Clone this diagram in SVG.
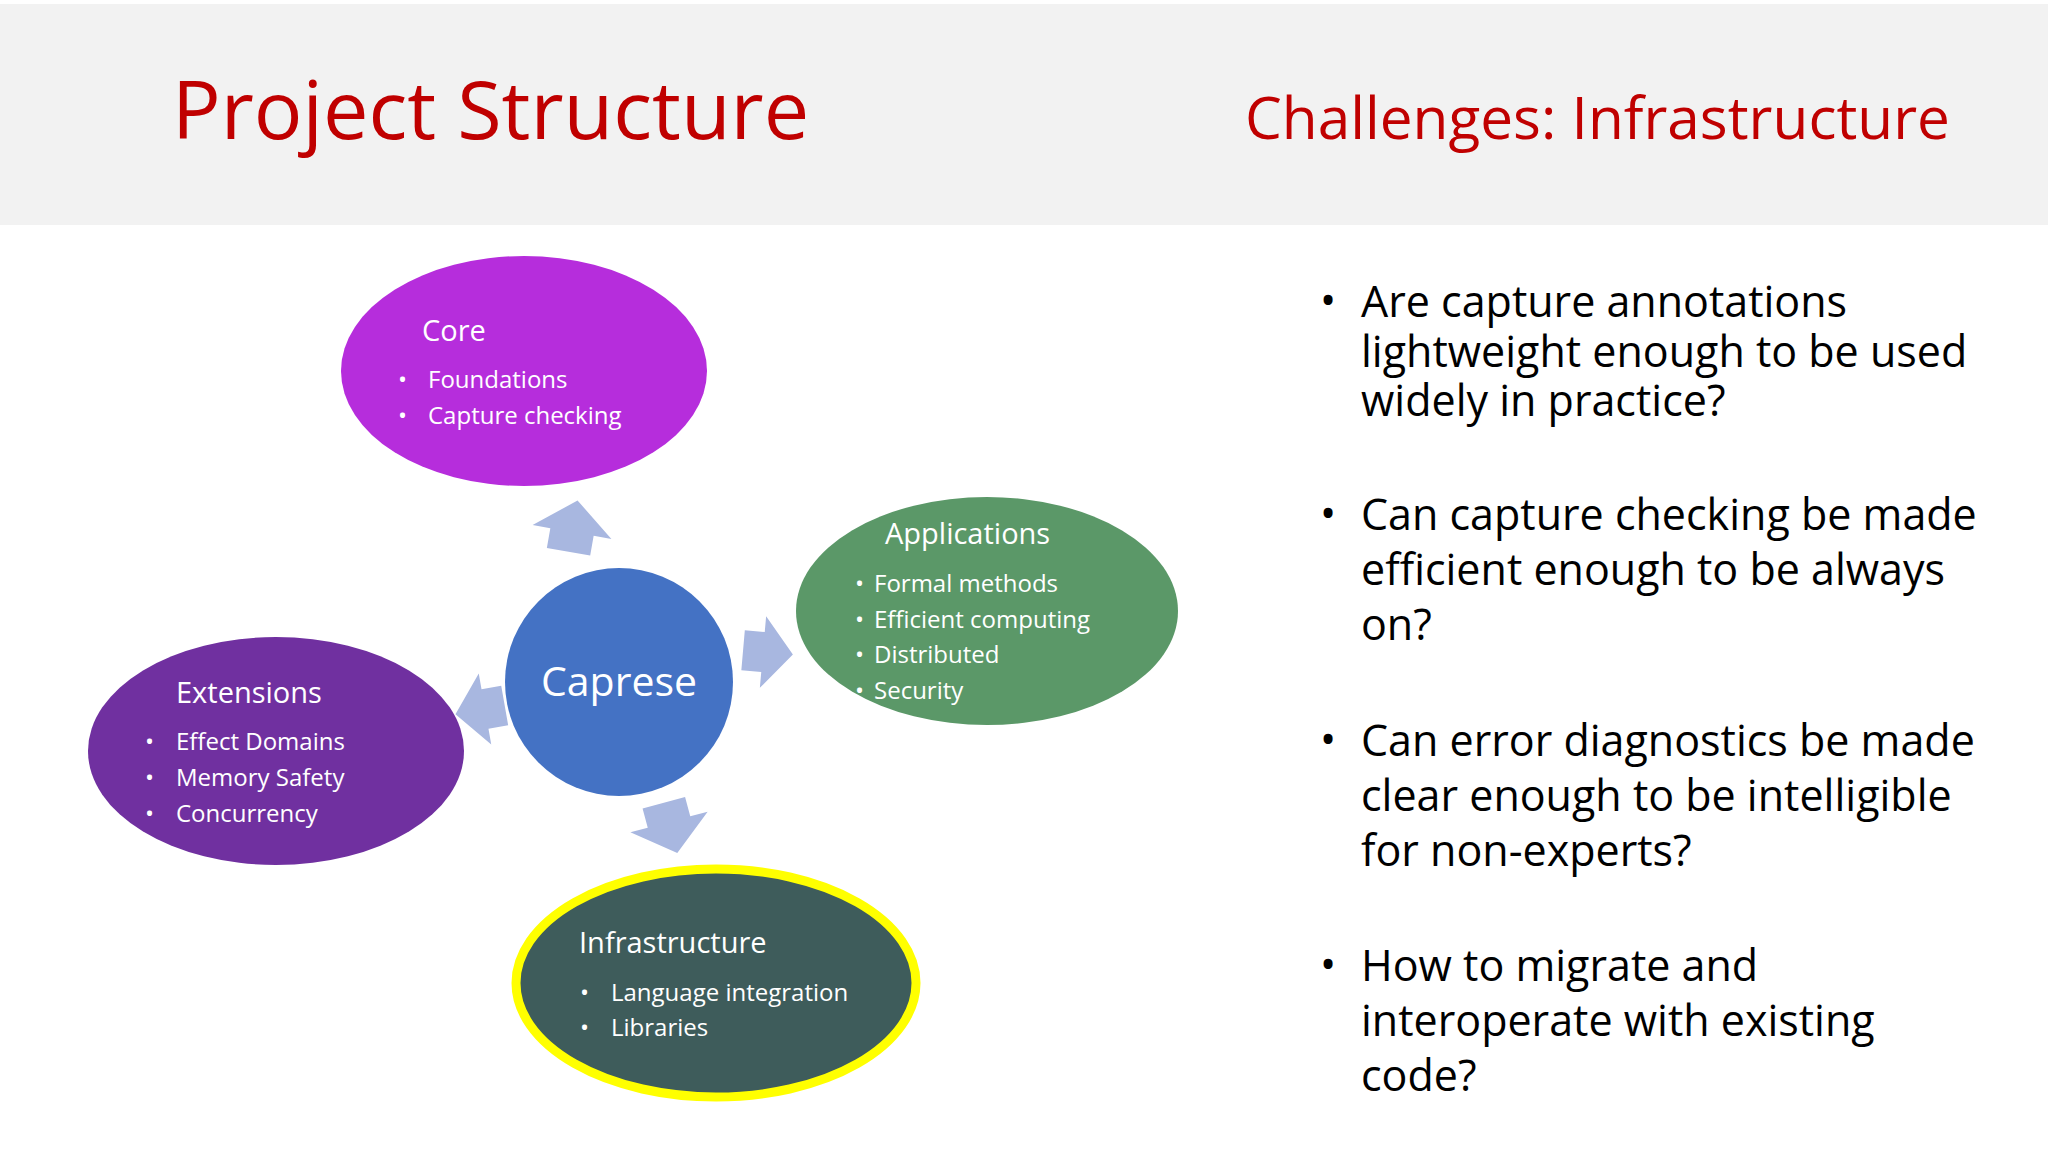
<svg xmlns="http://www.w3.org/2000/svg" width="2048" height="1152" viewBox="0 0 2048 1152">
<style>
.t{font-family:"Open Sans","Noto Sans","Liberation Sans",sans-serif;fill:#fff}
.h{font-size:29px}.b{font-size:24px}
.r{font-family:"Open Sans","Noto Sans","Liberation Sans",sans-serif;font-size:43px;fill:#000}
.ar{fill:#a8b7e0}
</style>
<rect width="2048" height="1152" fill="#fff"/>
<rect y="4" width="2048" height="221" fill="#f2f2f2"/>
<text x="172" y="139" font-family="'Open Sans','Noto Sans',sans-serif" font-size="81" fill="#c00000">Project Structure</text>
<text x="1245" y="139" font-family="'Open Sans','Noto Sans',sans-serif" font-size="58.5" fill="#c00000">Challenges: Infrastructure</text>
<g id="connectors">
<polygon class="ar" points="-22,20 22,20 22,0 40,0 0,-32 -40,0 -22,0" transform="translate(572,532) rotate(10)"/>
<polygon class="ar" points="-20,20 20,20 20,0 36,0 0,-30 -36,0 -20,0" transform="translate(763,652) rotate(95)"/>
<polygon class="ar" points="-20,20 20,20 20,0 36,0 0,-30 -36,0 -20,0" transform="translate(485,709) rotate(-100)"/>
<polygon class="ar" points="-22,20 22,20 22,0 40,0 0,-32 -40,0 -22,0" transform="translate(669,822) rotate(165)"/>
</g>
<g id="core">
<ellipse cx="524" cy="371" rx="183" ry="115" fill="#b62ddc"/>
<text class="t h" x="422" y="341">Core</text>
<text class="t b" x="398" y="388">•</text><text class="t b" x="428" y="388">Foundations</text>
<text class="t b" x="398" y="424">•</text><text class="t b" x="428" y="424">Capture  checking</text>
</g>
<g id="caprese">
<circle cx="619" cy="682" r="114" fill="#4472c4"/>
<text class="t" x="619" y="696" font-size="41" text-anchor="middle">Caprese</text>
</g>
<g id="applications">
<ellipse cx="987" cy="611" rx="191" ry="114" fill="#5b9868"/>
<text class="t h" x="885" y="544">Applications</text>
<text class="t b" x="855" y="592">•</text><text class="t b" x="874" y="592">Formal methods</text>
<text class="t b" x="855" y="628">•</text><text class="t b" x="874" y="628">Efficient computing</text>
<text class="t b" x="855" y="663">•</text><text class="t b" x="874" y="663">Distributed</text>
<text class="t b" x="855" y="699">•</text><text class="t b" x="874" y="699">Security</text>
</g>
<g id="extensions">
<ellipse cx="276" cy="751" rx="188" ry="114" fill="#7030a0"/>
<text class="t h" x="176" y="703">Extensions</text>
<text class="t b" x="145" y="750">•</text><text class="t b" x="176" y="750">Effect Domains</text>
<text class="t b" x="145" y="786">•</text><text class="t b" x="176" y="786">Memory Safety</text>
<text class="t b" x="145" y="822">•</text><text class="t b" x="176" y="822">Concurrency</text>
</g>
<g id="infrastructure">
<ellipse cx="716" cy="983" rx="200" ry="114" fill="#3e5c5b" stroke="#ffff00" stroke-width="9"/>
<text class="t h" x="579" y="953">Infrastructure</text>
<text class="t b" x="580" y="1001">•</text><text class="t b" x="611" y="1001">Language integration</text>
<text class="t b" x="580" y="1036">•</text><text class="t b" x="611" y="1036">Libraries</text>
</g>
<g id="challenges">
<text class="r" x="1320" y="316">•</text>
<text class="r" x="1361" y="317">Are capture annotations</text>
<text class="r" x="1361" y="367">lightweight enough to be used</text>
<text class="r" x="1361" y="416">widely in practice?</text>
<text class="r" x="1320" y="529">•</text>
<text class="r" x="1361" y="530">Can capture checking be made</text>
<text class="r" x="1361" y="585">efficient enough to be always</text>
<text class="r" x="1361" y="640">on?</text>
<text class="r" x="1320" y="755">•</text>
<text class="r" x="1361" y="756">Can error diagnostics be made</text>
<text class="r" x="1361" y="811">clear enough to be intelligible</text>
<text class="r" x="1361" y="866">for non-experts?</text>
<text class="r" x="1320" y="980">•</text>
<text class="r" x="1361" y="981">How to migrate and</text>
<text class="r" x="1361" y="1036">interoperate with existing</text>
<text class="r" x="1361" y="1091">code?</text>
</g>
</svg>
